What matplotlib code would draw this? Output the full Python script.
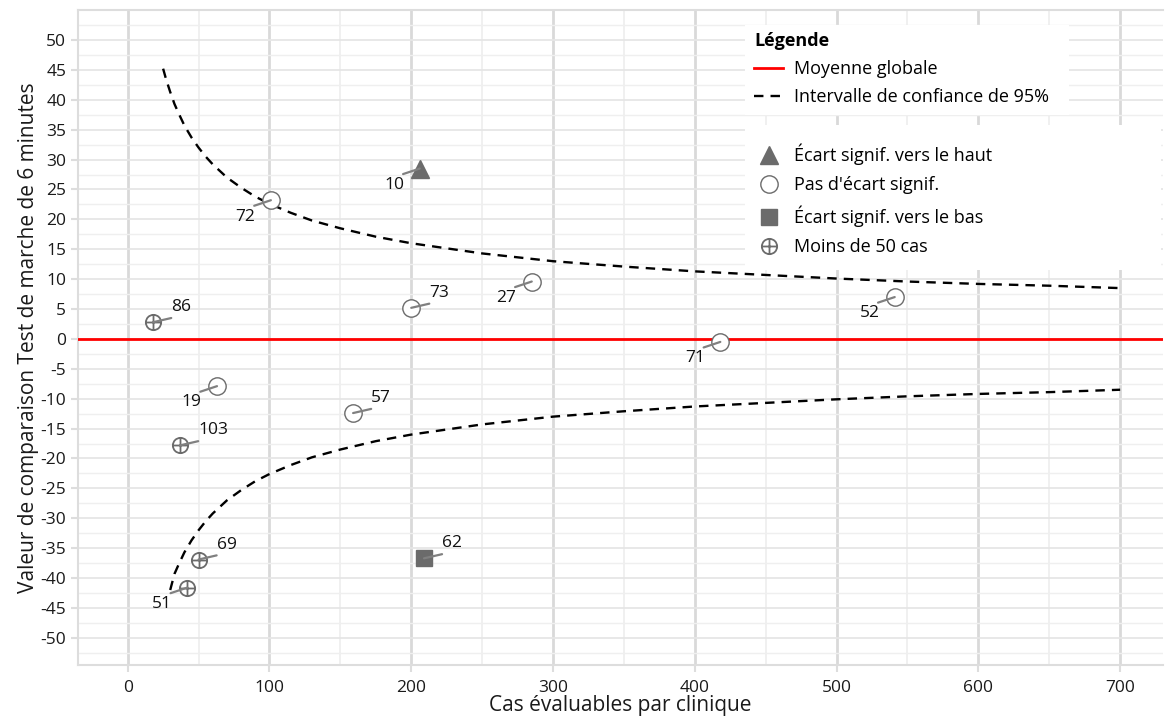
import matplotlib
matplotlib.use("Agg")
import matplotlib.pyplot as plt
from matplotlib.path import Path
from matplotlib.lines import Line2D
from matplotlib.patches import Rectangle
import numpy as np

plt.rcParams['font.family'] = ['Open Sans', 'DejaVu Sans']
plt.rcParams['axes.unicode_minus'] = False

# ---- data ----
clinics = ['86', '19', '103', '69', '51', '72', '10', '73', '57', '62', '27', '71', '52']
cases = [18, 63, 37, 50, 42, 101, 206, 200, 159, 209, 285, 418, 541]
values = [2.8, -7.9, -17.8, -36.9, -41.6, 23.2, 28.5, 5.2, -12.4, -36.7, 9.6, -0.5, 7.0]
status = ['few', 'ns', 'few', 'few', 'few', 'ns', 'up', 'ns', 'ns', 'down', 'ns', 'ns', 'ns']
label_pos = ['ur', 'll', 'ur', 'ur', 'll', 'll', 'll', 'ur', 'ur', 'ur', 'll', 'll', 'll']

ci_x_upper = [25, 27, 30, 33, 36, 40, 45, 50, 55, 60, 70, 80, 90, 100, 115, 130, 150,
              175, 200, 250, 300, 350, 400, 450, 500, 550, 600, 650, 700]
ci_y_upper = [45.2, 43.5, 41.3, 39.3, 37.7, 35.7, 33.7, 32.0, 30.5, 29.2, 27.0, 25.3,
              23.8, 22.6, 21.1, 19.8, 18.5, 17.1, 16.0, 14.3, 13.0, 12.1, 11.3, 10.7,
              10.1, 9.6, 9.2, 8.9, 8.5]
ci_x_lower = [30, 33, 36, 40, 45, 50, 55, 60, 70, 80, 90, 100, 115, 130, 150,
              175, 200, 250, 300, 350, 400, 450, 500, 550, 600, 650, 700]
ci_y_lower = [-42.0, -39.3, -37.7, -35.7, -33.7, -32.0, -30.5, -29.2, -27.0, -25.3,
              -23.8, -22.6, -21.1, -19.8, -18.5, -17.1, -16.0, -14.3, -13.0, -12.1,
              -11.3, -10.7, -10.1, -9.6, -9.2, -8.9, -8.5]
mean_value = 0

# ---- figure ----
fig = plt.figure(figsize=(11.65, 7.21), dpi=100)
ax = fig.add_axes([0.067, 0.078, 0.931, 0.908])
ax.set_xlim(-35, 730)
ax.set_ylim(-54.5, 55)

ax.set_xticks(np.arange(0, 701, 100))
ax.set_xticks(np.arange(50, 701, 100), minor=True)
ax.set_yticks(np.arange(-50, 51, 5))
ax.set_yticks(np.arange(-52.5, 53, 5), minor=True)
ax.grid(True, axis='x', which='major', color='#d9d9d9', lw=2)
ax.grid(True, axis='x', which='minor', color='#eeeeee', lw=1.2)
ax.grid(True, axis='y', which='major', color='#e6e6e6', lw=1.3)
ax.grid(True, axis='y', which='minor', color='#efefef', lw=1.0)
ax.set_axisbelow(True)
for s in ['left', 'bottom', 'top']:
    ax.spines[s].set_color('#dddddd')
    ax.spines[s].set_linewidth(1.5)
ax.spines['right'].set_visible(False)
ax.tick_params(axis='both', which='major', colors='#dddddd', labelcolor='#1a1a1a',
               labelsize=12.5, length=5, width=1.5)
ax.tick_params(axis='x', which='major', pad=6)
ax.tick_params(axis='both', which='minor', length=0)
ax.set_xlabel('Cas évaluables par clinique', fontsize=15, color='#1a1a1a', labelpad=-1)
ax.set_ylabel('Valeur de comparaison Test de marche de 6 minutes', fontsize=15,
              color='#1a1a1a', labelpad=1)

ax.axhline(mean_value, color='#ff0000', lw=2, zorder=3)
ax.plot(ci_x_upper, ci_y_upper, color='black', ls=(0, (4, 3)), lw=1.7, zorder=3)
ax.plot(ci_x_lower, ci_y_lower, color='black', ls=(0, (4, 3)), lw=1.7, zorder=3)

# plus-in-circle marker
circ = Path.unit_circle()
hline = Path([[-1, 0], [1, 0]], [Path.MOVETO, Path.LINETO])
vline = Path([[0, -1], [0, 1]], [Path.MOVETO, Path.LINETO])
oplus = Path.make_compound_path(circ, hline, vline)

gray = '#6b6b6b'
styles = {
    'up': dict(marker='^', ms=13, mfc=gray, mec=gray),
    'down': dict(marker='s', ms=11, mfc=gray, mec=gray),
    'ns': dict(marker='o', ms=12.5, mfc='white', mec=gray, mew=1.0),
    'few': dict(marker=oplus, ms=11, mfc='white', mec=gray, mew=1.3),
}

for lab, x, y, st, pos in zip(clinics, cases, values, status, label_pos):
    ax.plot([x], [y], ls='none', zorder=5, **styles[st])
    if pos == 'ur':
        lend, toff, ha = (13, 3), (13, 5), 'left'
    else:
        lend, toff, ha = (-12, -4), (-11, -6), 'right'
    ax.annotate('', xy=(x, y), xytext=lend, textcoords='offset points',
                arrowprops=dict(arrowstyle='-', color='#808080', lw=1.6,
                                shrinkA=0, shrinkB=0), zorder=6)
    ax.annotate(lab, xy=(x, y), xytext=toff, textcoords='offset points',
                ha=ha, va='bottom' if pos == 'ur' else 'top', fontsize=12.5,
                color='#111111', zorder=7)

# legend backgrounds
ax.add_patch(Rectangle((0.615, 0.84), 0.299, 0.137, transform=ax.transAxes,
                       facecolor='white', edgecolor='none', zorder=8))
ax.add_patch(Rectangle((0.615, 0.603), 0.383, 0.221, transform=ax.transAxes,
                       facecolor='white', edgecolor='none', zorder=8))

# legends
h1 = [Line2D([], [], color='#ff0000', lw=2),
      Line2D([], [], color='black', ls=(0, (4, 3)), lw=1.7)]
leg1 = ax.legend(h1, ['Moyenne globale', 'Intervalle de confiance de 95%'],
                 title='Légende', loc='upper left', bbox_to_anchor=(0.61, 0.988),
                 frameon=False, fontsize=13, handlelength=1.6, handletextpad=0.6,
                 borderpad=0.3, labelspacing=0.55, alignment='left')
leg1.get_title().set_fontweight('bold')
leg1.get_title().set_fontsize(13)
leg1.set_zorder(9)
ax.add_artist(leg1)

h2 = [Line2D([], [], ls='none', marker='^', ms=13, mfc=gray, mec=gray),
      Line2D([], [], ls='none', marker='o', ms=12.5, mfc='white', mec=gray, mew=1.0),
      Line2D([], [], ls='none', marker='s', ms=11, mfc=gray, mec=gray),
      Line2D([], [], ls='none', marker=oplus, ms=11, mfc='white', mec=gray, mew=1.3)]
leg2 = ax.legend(h2, ['Écart signif. vers le haut', "Pas d'écart signif.",
                      'Écart signif. vers le bas', 'Moins de 50 cas'],
                 loc='upper left', bbox_to_anchor=(0.61, 0.818), frameon=False,
                 fontsize=13, handlelength=1.6, handletextpad=0.6,
                 borderpad=0.3, labelspacing=0.62)
leg2.set_zorder(9)

fig.savefig('out.png', dpi=100)
